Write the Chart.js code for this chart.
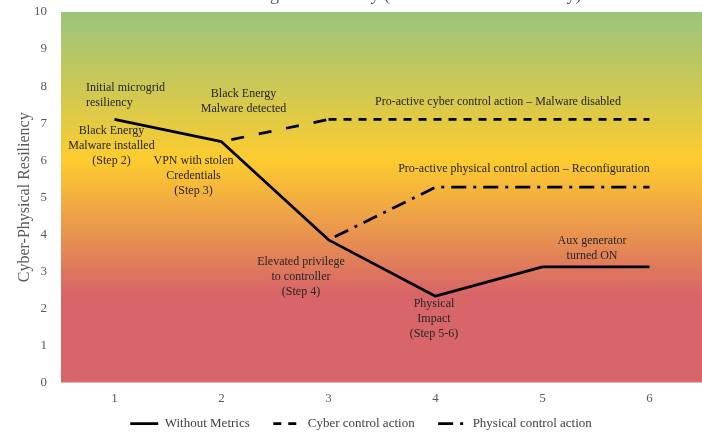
<!DOCTYPE html>
<html>
<head>
<meta charset="utf-8">
<script src="https://cdn.jsdelivr.net/npm/chart.js@4.4.1/dist/chart.umd.min.js"></script>
<style>
  html, body { margin: 0; padding: 0; background: #fff; overflow: hidden; }
  #wrap { position: relative; width: 702px; height: 434px; overflow: hidden; }
  canvas { position: absolute; left: 0; top: 0; }
</style>
</head>
<body>
<div id="wrap"><canvas id="c" width="722" height="440" style="width:722px;height:440px"></canvas></div>
<script>
// ---- data ----
const steps = ['1', '2', '3', '4', '5', '6'];
const withoutMetrics = [7.1, 6.5, 3.85, 2.33, 3.12, 3.12];
const cyberControl = [null, 6.5, 7.1, 7.1, 7.1, 7.1];
const physicalControl = [null, null, 3.85, 5.27, 5.27, 5.27];
const seriesNames = ['Without Metrics', 'Cyber control action', 'Physical control action'];
const yMin = 0, yMax = 10, yStep = 1;
const chartTitle = 'Microgrid Resiliency (Attack and Full Recovery)';
const yAxisTitle = 'Cyber-Physical Resiliency';
const calloutText = [
  ['Initial microgrid', 'resiliency'],
  ['Black Energy', 'Malware detected'],
  ['Black Energy', 'Malware installed', '(Step 2)'],
  ['VPN with stolen', 'Credentials', '(Step 3)'],
  ['Elevated privilege', 'to controller', '(Step 4)'],
  ['Physical', 'Impact', '(Step 5-6)'],
  ['Pro-active cyber control action \u2013 Malware disabled'],
  ['Pro-active physical control action \u2013 Reconfiguration'],
  ['Aux generator', 'turned ON']
];

// ---- layout of the callouts, in axis units (step position, resiliency of first line) ----
const calloutPlace = [
  { x: 0.734, y: 7.95, align: 'left' },
  { x: 2.206, y: 7.78 },
  { x: 0.972, y: 6.78 },
  { x: 1.738, y: 5.97 },
  { x: 2.743, y: 3.27 },
  { x: 3.986, y: 2.11 },
  { x: 4.584, y: 7.57 },
  { x: 4.827, y: 5.76 },
  { x: 5.463, y: 3.81 }
];

const SERIF = '"Liberation Serif", "Times New Roman", serif';

// warm-to-cool band behind the plot: red low, yellow mid, green high
const bandBackground = {
  id: 'bandBackground',
  beforeDraw(chart) {
    const { ctx, chartArea: a, scales: { y } } = chart;
    const g = ctx.createLinearGradient(0, a.top, 0, a.bottom);
    const frac = v => (y.getPixelForValue(v) - a.top) / (a.bottom - a.top);
    g.addColorStop(0, '#9AC47C');
    g.addColorStop(frac(6), '#FDCC2F');
    g.addColorStop(frac(2.4), '#D86568');
    g.addColorStop(1, '#D86568');
    ctx.save();
    ctx.fillStyle = g;
    ctx.fillRect(a.left, a.top, a.right - a.left, a.bottom - a.top);
    ctx.restore();
  }
};

// heading, sitting mostly above the visible top edge
const headingText = {
  id: 'headingText',
  afterDraw(chart) {
    const ctx = chart.ctx;
    ctx.save();
    ctx.font = '18px ' + SERIF;
    ctx.fillStyle = '#595959';
    ctx.textAlign = 'left';
    ctx.textBaseline = 'alphabetic';
    ctx.fillText(chartTitle, 226, 0);
    ctx.restore();
  }
};

// step descriptions placed on the plot through the axis scales
const callouts = {
  id: 'callouts',
  afterDatasetsDraw(chart) {
    const { ctx, scales: { x, y } } = chart;
    ctx.save();
    ctx.font = '12px ' + SERIF;
    ctx.fillStyle = '#262626';
    ctx.textBaseline = 'middle';
    calloutText.forEach((lines, i) => {
      const p = calloutPlace[i];
      const px = x.getPixelForValue(p.x - 1);
      const py = y.getPixelForValue(p.y);
      ctx.textAlign = p.align || 'center';
      lines.forEach((t, k) => ctx.fillText(t, px, py + k * 15));
    });
    ctx.restore();
  }
};

// legend entries: line samples carry each series' dash pattern,
// and the gap after an entry is widened with a few spaces
function legendItems(chart) {
  const items = Chart.defaults.plugins.legend.labels.generateLabels(chart);
  return items.map((item, i) => {
    const ds = chart.data.datasets[item.datasetIndex];
    return Object.assign({}, item, {
      text: i < items.length - 1 ? item.text + '    ' : item.text,
      lineDash: ds.borderDash || [],
      lineDashOffset: 0,
      lineWidth: ds.borderWidth,
      strokeStyle: ds.borderColor,
      fillStyle: ds.borderColor
    });
  });
}

new Chart(document.getElementById('c'), {
  type: 'line',
  data: {
    labels: steps,
    datasets: [
      {
        label: seriesNames[0],
        data: withoutMetrics,
        borderColor: '#000',
        backgroundColor: '#000',
        borderWidth: 2.75,
        pointRadius: 0,
        tension: 0,
        borderJoinStyle: 'round'
      },
      {
        label: seriesNames[1],
        data: cyberControl,
        borderColor: '#000',
        backgroundColor: '#000',
        borderWidth: 2.75,
        borderDash: [8, 7],
        pointRadius: 0,
        tension: 0,
        segment: {
          borderDash: c => (c.p0DataIndex === 1 ? [13, 15] : undefined),
          borderDashOffset: c => (c.p0DataIndex === 1 ? 18 : undefined)
        }
      },
      {
        label: seriesNames[2],
        data: physicalControl,
        borderColor: '#000',
        backgroundColor: '#000',
        borderWidth: 2.75,
        borderDash: [15, 7, 3, 7],
        borderDashOffset: 25,
        pointRadius: 0,
        tension: 0
      }
    ]
  },
  options: {
    responsive: false,
    animation: false,
    devicePixelRatio: 1,
    layout: { padding: { top: 12, left: 0, right: 0, bottom: 0 } },
    plugins: {
      title: { display: false },
      tooltip: { enabled: false },
      legend: {
        position: 'bottom',
        labels: {
          usePointStyle: true,
          pointStyle: 'line',
          pointStyleWidth: 28,
          padding: 10.5,
          color: '#404040',
          font: { family: SERIF, size: 13 },
          generateLabels: legendItems
        }
      }
    },
    scales: {
      x: {
        type: 'category',
        offset: true,
        grid: { display: false, drawTicks: false },
        border: { display: false },
        ticks: { color: '#595959', font: { family: SERIF, size: 13 }, padding: 8 },
        afterFit: s => { s.height = 24; }
      },
      y: {
        type: 'linear',
        position: 'left',
        min: yMin,
        max: yMax,
        grid: { display: true, drawOnChartArea: false, color: 'transparent', drawTicks: true, tickLength: 12 },
        border: { display: false },
        ticks: { stepSize: yStep, color: '#595959', font: { family: SERIF, size: 13 }, padding: 2 },
        title: {
          display: true,
          text: yAxisTitle,
          color: '#595959',
          font: { family: SERIF, size: 16 },
          padding: { top: 15, bottom: 0 }
        },
        afterFit: s => { s.width = 61; }
      },
      yPad: {
        type: 'linear',
        position: 'right',
        display: true,
        grid: { display: false, drawTicks: false },
        border: { display: false },
        ticks: { display: false },
        afterFit: s => { s.width = 19; }
      }
    }
  },
  plugins: [bandBackground, callouts, headingText]
});
</script>
</body>
</html>
